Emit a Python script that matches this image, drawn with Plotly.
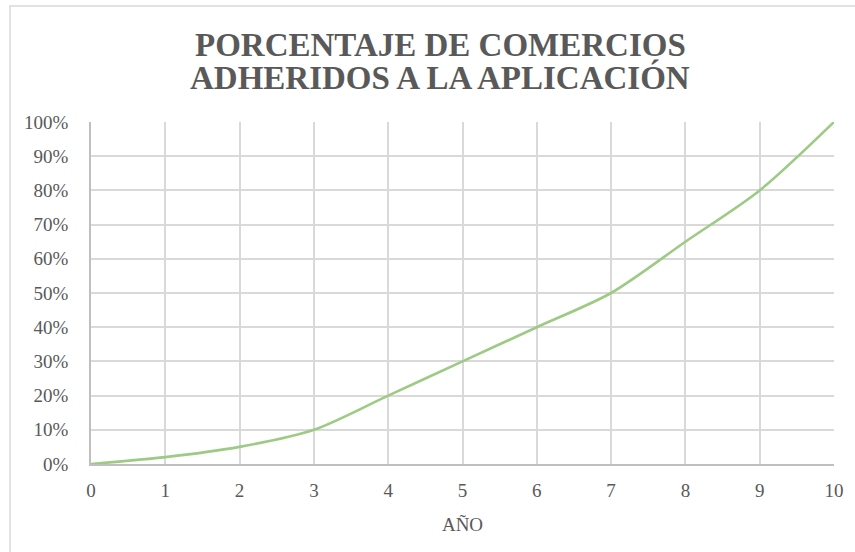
import plotly.graph_objects as go

years = [0, 1, 2, 3, 4, 5, 6, 7, 8, 9, 10]
pct = [0.0, 0.02, 0.05, 0.10, 0.20, 0.30, 0.40, 0.50, 0.65, 0.80, 1.00]
y_ticks = [0, 0.1, 0.2, 0.3, 0.4, 0.5, 0.6, 0.7, 0.8, 0.9, 1.0]
y_tick_labels = [f"{int(round(v*100))}%" for v in y_ticks]
x_ticks = list(range(0, 11))

title_lines = ["PORCENTAJE DE COMERCIOS", "ADHERIDOS A LA APLICACIÓN"]
x_title = "AÑO"

serif = "Liberation Serif, Times New Roman, serif"
txt = "#595959"

L, R, T, B, W, H = 91, 21, 122, 88, 855, 552
pw, ph = W - L - R, H - T - B

def px_to_paper_x(px):
    return (px - L) / pw

def px_to_paper_y(py):
    return (H - B - py) / ph

fig = go.Figure()
fig.add_trace(go.Scatter(
    x=years, y=pct, mode="lines",
    line=dict(color="#9dca84", width=2.6, shape="spline", smoothing=0.8),
    hoverinfo="skip", showlegend=False,
))

fig.update_layout(
    width=W, height=H,
    margin=dict(l=L, r=R, t=T, b=B),
    paper_bgcolor="white", plot_bgcolor="white",
    xaxis=dict(range=[0, 10], tickvals=x_ticks, showgrid=True, gridcolor="#d9d9d9",
               gridwidth=1.5, zeroline=False, showline=True, linecolor="#bfbfbf",
               linewidth=1.5, ticks="", ticklabelstandoff=8,
               tickfont=dict(family=serif, size=19, color=txt),
               title=dict(text=x_title, font=dict(family=serif, size=19, color=txt), standoff=18)),
    yaxis=dict(range=[0, 1], tickvals=y_ticks, ticktext=y_tick_labels, showgrid=True,
               gridcolor="#d9d9d9", gridwidth=1.5, zeroline=False, showline=True,
               linecolor="#bfbfbf", linewidth=1.5, ticks="", ticklabelstandoff=17,
               tickfont=dict(family=serif, size=19, color=txt)),
)

for line_text, py in zip(title_lines, [45, 77]):
    fig.add_annotation(text=f"<b>{line_text}</b>", xref="paper", yref="paper",
                       x=px_to_paper_x(440), y=px_to_paper_y(py),
                       xanchor="center", yanchor="middle", showarrow=False,
                       font=dict(family=serif, size=33, color=txt))

fig.add_shape(type="rect", xref="paper", yref="paper",
              x0=px_to_paper_x(10), x1=px_to_paper_x(870),
              y0=px_to_paper_y(570), y1=px_to_paper_y(6),
              line=dict(color="#d9d9d9", width=1.5), fillcolor="rgba(0,0,0,0)", layer="below")

fig.write_html("out.html")
